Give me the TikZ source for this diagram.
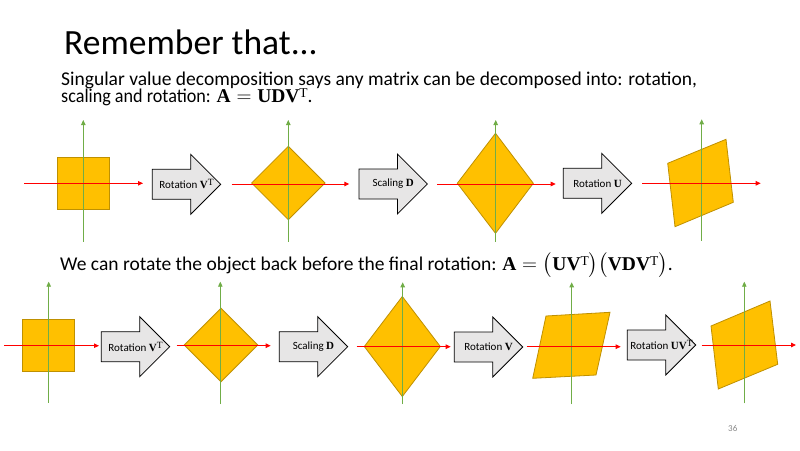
\documentclass[tikz,border=0pt]{standalone}
\usepackage{amsmath}
\usepackage[no-math]{fontspec}
\setmainfont{Carlito}
\newfontfamily\narrowfont[FakeStretch=0.93]{Carlito}
\newfontfamily\mfont{Liberation Serif}
\usetikzlibrary{arrows.meta}
\definecolor{gold}{HTML}{FFC000}
\definecolor{golddark}{HTML}{BF9000}
\definecolor{axred}{HTML}{FF0000}
\definecolor{axgreen}{HTML}{70AD47}
\definecolor{arrowfill}{HTML}{E7E6E6}
\definecolor{pagegray}{HTML}{898989}
\newcommand\mb[1]{\text{\mfont\bfseries #1}}
% transpose mark for the large text lines and for the small arrow labels
\newcommand\tpb{\text{\raisebox{4.5pt}{\fontsize{13.5}{13.5}\selectfont\mfont T}}}
\newcommand\tps{\text{\raisebox{3.2pt}{\fontsize{9.5}{9.5}\selectfont\mfont T}}}
\tikzset{
  shapefill/.style={fill=gold, draw=golddark, line width=0.8pt, line join=miter},
  xaxis/.style={draw=axred, line width=0.9pt, -{Triangle[length=5pt,width=4.5pt]}},
  yaxis/.style={draw=axgreen, line width=0.9pt, -{Triangle[length=5pt,width=4.5pt]}},
  bigarrow/.style={fill=arrowfill, draw=black, line width=0.8pt, line join=miter},
  arrowlabel/.style={font=\fontsize{11}{12}\selectfont, inner sep=0pt},
  bodytext/.style={font=\fontsize{19.5}{17}\selectfont, inner sep=0pt, anchor=base west},
}
\newcommand\fatarrow[4]{%
  \draw[bigarrow] (#1,#2) ++(0,-15) -- ++(38.4,0) -- ++(0,-15) -- ++(30,30)
     -- ++(-30,30) -- ++(0,-15) -- ++(-38.4,0) -- cycle;
  \node[arrowlabel] (#3) at (#1+34.2,#2) {#4};
}
\newcommand\axespair[6]{% xleft, xright, yline, xv, ybottom, ytop
  \draw[yaxis] (#4,#5) -- (#4,#6);
  \draw[xaxis] (#1,#3) -- (#2,#3);
}
\begin{document}
\begin{tikzpicture}[x=1pt,y=-1pt]
\useasboundingbox[fill=white] (0,0) rectangle (800,450);

% texts
\node[inner sep=0pt, anchor=base west, font=\fontsize{35.5}{38}\selectfont] (title) at (64,54) {Remember that...};
\node[bodytext] (line1) at (61,85.5) {Singular value decomposition says any matrix can be decomposed into: rotation,};
\node[bodytext] (line2) at (61,102.3) {{\narrowfont scaling and rotation:} $\mb{A}=\mb{UDV}\tpb$.};
\node[bodytext] (line3) at (60,270) {We can rotate the object back before the final rotation: $\mb{A}=\big(\mb{UV}\tpb\big)\big(\mb{VDV}\tpb\big)$.};
\node[inner sep=0pt, anchor=base west, text=pagegray, font=\fontsize{9}{10}\selectfont] (pagenum) at (728,431) {36};

% ---------------- row 1 ----------------
\draw[shapefill] (57.3,157.3) rectangle (109.3,209.3);
\axespair{24}{143}{183.3}{83.3}{241.7}{120}
\fatarrow{152.3}{184.3}{r1a}{Rotation $\mb{V}\tps$}

\draw[shapefill] (251.6,183) -- (288.3,146.3) -- (325,183) -- (288.3,219.7) -- cycle;
\axespair{231.7}{349.3}{184}{288.3}{241.7}{120}
\fatarrow{359}{184}{r1b}{Scaling $\mb{D}$}

\draw[shapefill] (457.3,183.3) -- (495.5,133.3) -- (533.3,183.3) -- (495.5,233.3) -- cycle;
\axespair{437.3}{555.7}{184}{495.7}{241.7}{120}
\fatarrow{563.3}{183.3}{r1c}{Rotation $\mb{U}$}

\draw[shapefill] (667.7,163.3) -- (726,139.3) -- (733.3,202.3) -- (675,226.7) -- cycle;
\axespair{642.3}{760.7}{183.3}{701.7}{240.7}{119.3}

% ---------------- row 2 ----------------
\draw[shapefill] (22.3,319.3) rectangle (74.3,371.3);
\axespair{4}{99}{345.7}{48.7}{402.7}{281.7}
\fatarrow{101.3}{346.7}{r2a}{Rotation $\mb{V}\tps$}

\draw[shapefill] (184.3,345) -- (221,308.3) -- (257.7,345) -- (221,381.7) -- cycle;
\axespair{176.7}{270.7}{345.7}{220.3}{404}{281.7}
\fatarrow{279.3}{346.7}{r2b}{Scaling $\mb{D}$}

\draw[shapefill] (364.3,346.5) -- (402.3,296.5) -- (440.3,346.5) -- (402.3,396.5) -- cycle;
\axespair{356.7}{450.7}{346.7}{402.7}{404}{282.3}
\fatarrow{454.3}{347}{r2c}{Rotation $\mb{V}$}

\draw[shapefill] (546,316) -- (610,312.3) -- (596,375) -- (532.7,378.3) -- cycle;
\axespair{526.7}{620.7}{346.7}{571.7}{404}{282.3}
\fatarrow{627.3}{345}{r2d}{Rotation $\mb{UV}\tps$}

\draw[shapefill] (711,326) -- (770,301) -- (777.7,364.3) -- (718.3,389) -- cycle;
\axespair{701.7}{796}{345}{744.3}{403.3}{281.7}
\end{tikzpicture}
\end{document}
